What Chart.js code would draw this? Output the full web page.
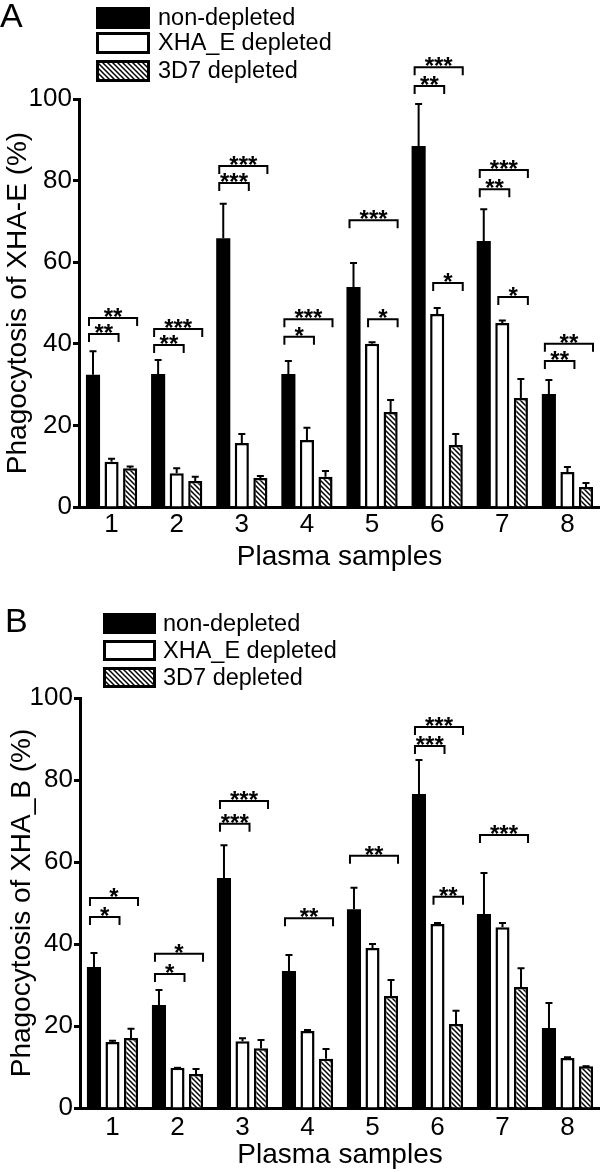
<!DOCTYPE html>
<html><head><meta charset="utf-8">
<script src="https://cdn.jsdelivr.net/npm/chart.js@4.4.1/dist/chart.umd.min.js"></script>
<style>
html,body{margin:0;padding:0;background:#fff;}
#wrap{position:relative;width:600px;height:1172px;overflow:hidden;}
canvas{position:absolute;left:0;}
</style></head><body>
<div id="wrap">
<canvas id="cA" width="600" height="586" style="top:0"></canvas>
<canvas id="cB" width="600" height="586" style="top:586px"></canvas>
</div>
<script>
const categories = ['1','2','3','4','5','6','7','8'];
const seriesLabels = ['non-depleted','XHA_E depleted','3D7 depleted'];
const yTickStep = 20;
const yMax = 100;

// Panel A: Phagocytosis of XHA-E (%)
const nonDepletedA    = [32.4, 32.6, 65.9, 32.6, 53.9, 88.5, 65.2, 27.7];
const nonDepletedA_sd = [5.8, 3.4, 8.4, 3.2, 5.9, 10.3, 7.8, 3.4];
const xhaDepletedA    = [11.1, 8.3, 15.7, 16.4, 40.0, 47.3, 45.1, 8.6];
const xhaDepletedA_sd = [0.7, 1.2, 2.2, 3.0, 0.4, 1.5, 0.6, 1.2];
const d37DepletedA    = [9.5, 6.4, 7.1, 7.4, 23.3, 15.2, 26.7, 4.9];
const d37DepletedA_sd = [0.4, 1.0, 0.5, 1.4, 2.9, 2.7, 4.7, 1.0];
// significance brackets: [category index, from series, to series, level (%), label]
const bracketsA = [
  [0,0,2,46.3,'**'],[0,0,1,42.4,'**'],
  [1,0,2,43.6,'***'],[1,0,1,39.7,'**'],
  [2,0,2,83.6,'***'],[2,0,1,79.4,'***'],
  [3,0,2,46.0,'***'],[3,0,1,41.7,'*'],
  [4,0,2,70.3,'***'],[4,1,2,46.0,'*'],
  [5,0,2,107.8,'***'],[5,0,1,103.2,'**'],[5,1,2,54.9,'*'],
  [6,0,2,82.6,'***'],[6,0,1,77.9,'**'],[6,1,2,51.5,'*'],
  [7,0,2,40.0,'**'],[7,0,1,35.8,'**']
];

// Panel B: Phagocytosis of XHA_B (%)
const nonDepletedB    = [34.4, 25.1, 56.1, 33.4, 48.5, 76.6, 47.3, 19.5];
const nonDepletedB_sd = [3.4, 3.7, 8.0, 3.9, 5.2, 8.3, 10.0, 6.1];
const xhaDepletedB    = [16.1, 9.8, 16.3, 18.8, 39.0, 44.9, 44.1, 12.2];
const xhaDepletedB_sd = [0.3, 0.0, 0.7, 0.2, 1.0, 0.2, 1.0, 0.2];
const d37DepletedB    = [17.1, 8.3, 14.6, 12.0, 27.3, 20.5, 29.5, 10.2];
const d37DepletedB_sd = [2.2, 1.2, 2.0, 2.4, 3.9, 3.2, 4.6, 0.0];
const bracketsB = [
  [0,0,2,51.2,'*'],[0,0,1,46.6,'*'],
  [1,0,2,37.6,'*'],[1,0,1,32.7,'*'],
  [2,0,2,74.9,'***'],[2,0,1,69.3,'***'],
  [3,0,2,46.3,'**'],
  [4,0,2,61.5,'**'],
  [5,0,2,92.9,'***'],[5,0,1,88.3,'***'],[5,1,2,51.5,'**'],
  [6,0,2,66.6,'***']
];

const FONT = '"Liberation Sans", Arial, Helvetica, sans-serif';

function hatchPattern(){
  const s = 5;
  const c = document.createElement('canvas'); c.width = s; c.height = s;
  const g = c.getContext('2d');
  g.fillStyle = '#fff'; g.fillRect(0,0,s,s);
  g.strokeStyle = '#000'; g.lineWidth = 1.5;
  g.beginPath();
  g.moveTo(-1,-1); g.lineTo(s+1,s+1);
  g.moveTo(-1,s-1); g.lineTo(1,s+1);
  g.moveTo(s-1,-1); g.lineTo(s+1,1);
  g.stroke();
  return document.createElement('canvas').getContext('2d').createPattern(c,'repeat');
}

const annotPlugin = {
  id: 'annot',
  afterDatasetsDraw(chart, args, o){
    const ctx = chart.ctx, y = chart.scales.y;
    ctx.save();
    ctx.strokeStyle = '#000'; ctx.lineWidth = 2;
    // error bars (upper only)
    chart.data.datasets.forEach((ds, di) => {
      const meta = chart.getDatasetMeta(di);
      meta.data.forEach((bar, i) => {
        const top = y.getPixelForValue(ds.data[i] + ds.sd[i]);
        ctx.beginPath();
        ctx.moveTo(bar.x, bar.y); ctx.lineTo(bar.x, top);
        ctx.moveTo(bar.x - 3.5, top); ctx.lineTo(bar.x + 3.5, top);
        ctx.stroke();
      });
    });
    // significance brackets
    ctx.font = 'bold 24px ' + FONT;
    ctx.textAlign = 'center'; ctx.textBaseline = 'alphabetic'; ctx.fillStyle = '#000';
    o.brackets.forEach(([cat, a, b, val, label]) => {
      const xa = chart.getDatasetMeta(a).data[cat].x - 4;
      const xb = chart.getDatasetMeta(b).data[cat].x + 7;
      const yy = y.getPixelForValue(val);
      ctx.beginPath();
      ctx.moveTo(xa, yy + 8); ctx.lineTo(xa, yy); ctx.lineTo(xb, yy); ctx.lineTo(xb, yy + 8);
      ctx.stroke();
      ctx.fillText(label, (xa + xb) / 2, yy + 7);
    });
    // legend
    const L = o.legend;
    chart.data.datasets.forEach((ds, i) => {
      const by = L.tops[i];
      ctx.fillStyle = ds.backgroundColor;
      ctx.fillRect(L.x, by, L.w, L.h);
      ctx.lineWidth = 3; ctx.strokeStyle = '#000';
      ctx.strokeRect(L.x + 1.5, by + 1.5, L.w - 3, L.h - 3);
      ctx.fillStyle = '#000';
      ctx.font = '23.5px ' + FONT; ctx.textAlign = 'left'; ctx.textBaseline = 'middle';
      ctx.fillText(ds.label, L.textX, by + L.h / 2 + 1);
    });
    // panel letter
    ctx.font = '34px ' + FONT; ctx.textAlign = 'left'; ctx.textBaseline = 'alphabetic';
    ctx.fillText(o.letter.text, o.letter.x, o.letter.y);
    ctx.restore();
  }
};

function makeChart(id, vals, sds, brackets, yTitle, cfg){
  const pat = hatchPattern();
  const colors = ['#000', '#fff', pat];
  const borders = [0, 2.5, 2.5];
  return new Chart(document.getElementById(id), {
    type: 'bar',
    data: {
      labels: categories,
      datasets: vals.map((v, i) => ({
        label: seriesLabels[i], data: v, sd: sds[i],
        backgroundColor: colors[i], borderColor: '#000', borderWidth: borders[i],
        categoryPercentage: 0.855, barPercentage: 0.76
      }))
    },
    options: {
      responsive: false, animation: false, devicePixelRatio: 1,
      layout: { padding: { top: cfg.top, right: 0, bottom: 0, left: 0 } },
      plugins: {
        legend: { display: false }, tooltip: { enabled: false },
        annot: { brackets: brackets, legend: cfg.legend, letter: cfg.letter }
      },
      scales: {
        x: {
          grid: { display: false, drawTicks: false },
          border: { display: true, width: 3, color: '#000' },
          ticks: { color: '#000', font: { family: FONT, size: 26 }, padding: cfg.xTickPad },
          title: { display: true, text: 'Plasma samples', color: '#000',
                   font: { family: FONT, size: 28 }, padding: { top: 0, bottom: cfg.xTitlePad } },
          afterFit(s){ s.height = cfg.xh; }
        },
        y: {
          min: 0, max: yMax,
          grid: { display: true, drawOnChartArea: false, drawTicks: true, tickLength: 6, tickWidth: 3, tickColor: '#000' },
          border: { display: true, width: 3, color: '#000' },
          ticks: { stepSize: yTickStep, color: '#000', font: { family: FONT, size: 26 }, padding: 1 },
          title: { display: true, text: yTitle, color: '#000',
                   font: { family: FONT, size: 28 }, padding: { top: cfg.yTitlePad, bottom: 0 } },
          afterFit(s){ s.width = cfg.yw; }
        }
      }
    },
    plugins: [annotPlugin]
  });
}

makeChart('cA',
  [nonDepletedA, xhaDepletedA, d37DepletedA],
  [nonDepletedA_sd, xhaDepletedA_sd, d37DepletedA_sd],
  bracketsA, 'Phagocytosis of XHA-E (%)',
  { top: 99, xh: 79, yw: 79, xTickPad: 2, xTitlePad: 12, yTitlePad: 1,
    legend: { x: 96, w: 54, h: 22, tops: [7, 32, 60], textX: 158 },
    letter: { text: 'A', x: 0, y: 27 } });

makeChart('cB',
  [nonDepletedB, xhaDepletedB, d37DepletedB],
  [nonDepletedB_sd, xhaDepletedB_sd, d37DepletedB_sd],
  bracketsB, 'Phagocytosis of XHA_B (%)',
  { top: 112, xh: 64, yw: 80, xTickPad: 4, xTitlePad: 0, yTitlePad: 5,
    legend: { x: 103, w: 53, h: 21, tops: [27, 54, 81], textX: 163 },
    letter: { text: 'B', x: 5, y: 46 } });
</script>
</body></html>
